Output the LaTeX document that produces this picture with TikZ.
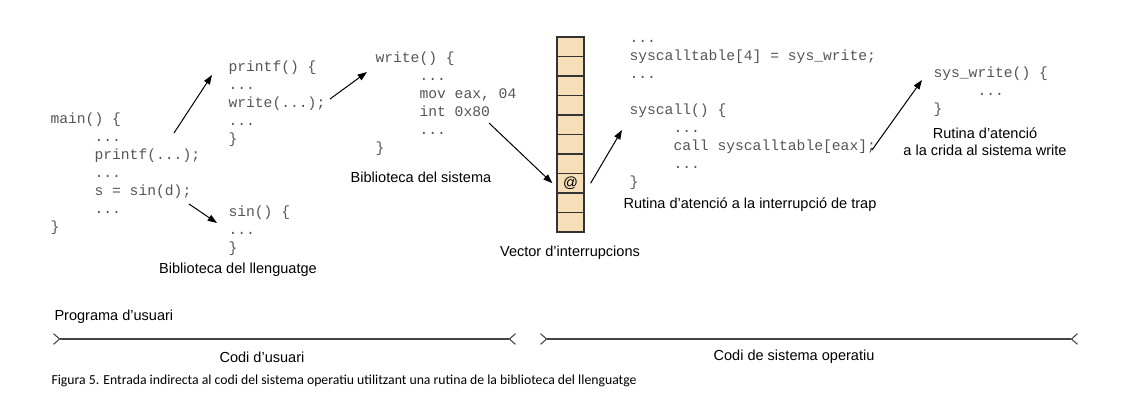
\documentclass[tikz,border=0pt]{standalone}
\usepackage{fontspec}
\setmainfont{Liberation Sans}
\setmonofont{Liberation Mono}
\newfontfamily\capfont{Carlito}
\usetikzlibrary{arrows.meta}

\newcommand\ind{\hspace*{3em}}

\tikzset{every picture/.style={line width=0.75pt}}
\tikzset{
	codeblock/.style={anchor=north west, inner sep=0pt, align=left, font=\ttfamily\fontsize{11}{13.5}\selectfont, text={rgb, 255:red, 85; green, 85; blue, 85 }},
	sanslabel/.style={inner sep=0.75pt, font=\fontsize{10.9}{12.75}\selectfont},
	callarrow/.style={-{Triangle[length=7pt,width=5pt]}},
	cellbox/.style={draw={rgb, 255:red, 51; green, 51; blue, 51 }, line width=0.9pt, fill={rgb, 255:red, 245; green, 222; blue, 184 }, minimum width=20.25pt, minimum height=14.625pt, inner sep=0pt},
	rangeline/.style={draw={rgb, 255:red, 68; green, 68; blue, 68 }, line width=1.1pt, {Straight Barb[reversed,length=4.5pt,width=8pt,line width=0.8pt]}-{Straight Barb[reversed,length=4.5pt,width=8pt,line width=0.8pt]}}
}

\begin{document}
\begin{tikzpicture}[x=0.75pt,y=0.75pt,yscale=-1,xscale=1]
	\useasboundingbox (0,0) rectangle (1140,402);
	
	% Code blocks
	\node[codeblock] (mainfn) at (50,110) {\strut main() \{\\ \ind ...\\ \ind printf(...);\\ \ind ...\\ \ind s = sin(d);\\ \ind ...\\ \}};
	\node[codeblock] (printffn) at (228,58) {\strut printf() \{\\ ...\\ write(...);\\ ...\\ \}};
	\node[codeblock] (sinfn) at (228,203) {\strut sin() \{\\ ...\\ \}};
	\node[codeblock] (writefn) at (375,49) {\strut write() \{\\ \ind ...\\ \ind mov eax, 04\\ \ind int 0x80\\ \ind ...\\ \}};
	\node[codeblock] (trapfn) at (629,29) {\strut ...\\ syscalltable[4] = sys\_write;\\ ...\\ \mbox{}\\ syscall() \{\\ \ind ...\\ \ind call syscalltable[eax];\\ \ind ...\\ \}};
	\node[codeblock] (syswritefn) at (933,64) {\strut sys\_write() \{\\ \ind ...\\ \}};
	
	% Vector d'interrupcions
	\foreach \i in {0,...,9}
		\node[cellbox] (cell\i) at (570.5,{46.75+19.5*\i}) {};
	\node[inner sep=0pt, font=\fontsize{11}{13}\selectfont] (atsign) at (cell7) {@};
	
	% Text Node
	\node[sanslabel] (libllang) at (238,270) {Biblioteca del llenguatge};
	\node[sanslabel] (libsys) at (421,177) {Biblioteca del sistema};
	\node[sanslabel] (veclbl) at (570,253) {Vector d'interrupcions};
	\node[sanslabel] (traplbl) at (750,205) {Rutina d'atenció a la interrupció de trap};
	\node[sanslabel, align=center] (syswritelbl) at (985,141.5) {Rutina d'atenció\\a la crida al sistema write};
	\node[sanslabel, anchor=west] (proglbl) at (53,317) {Programa d'usuari};
	\node[sanslabel] (usrlbl) at (262,357) {Codi d'usuari};
	\node[sanslabel] (oslbl) at (794,357) {Codi de sistema operatiu};
	\node[anchor=west, inner sep=0.75pt, font=\capfont\fontsize{10.3}{12}\selectfont] (caption) at (50,381) {Figura 5. Entrada indirecta al codi del sistema operatiu utilitzant una rutina de la biblioteca del llenguatge};
	
	% Arrow ends
	\coordinate (pcallA) at (174,133);
	\coordinate (pdefA) at (212,75);
	\coordinate (scallA) at (189,204);
	\coordinate (sdefA) at (217,223);
	\coordinate (wcallA) at (330,99);
	\coordinate (wdefA) at (367,72);
	\coordinate (intA) at (489,123);
	\coordinate (trapA) at (622,130);
	\coordinate (tblA) at (872,150);
	\coordinate (swA) at (922,80);
	
	% Straight Lines
	\draw[callarrow] (pcallA) -- (pdefA);
	\draw[callarrow] (scallA) -- (sdefA);
	\draw[callarrow] (wcallA) -- (wdefA);
	\draw[callarrow] (intA) -- ([xshift=-3pt]cell7.west);
	\draw[callarrow] ([xshift=4.5pt]cell7.east) -- (trapA);
	\draw[callarrow] (tblA) -- (swA);
	
	% Range lines
	\coordinate (usrL) at (53,339);
	\coordinate (usrR) at (516,339);
	\coordinate (osL) at (540,339);
	\coordinate (osR) at (1078,339);
	\draw[rangeline] (usrL) -- (usrR);
	\draw[rangeline] (osL) -- (osR);
	
\end{tikzpicture}
\end{document}
